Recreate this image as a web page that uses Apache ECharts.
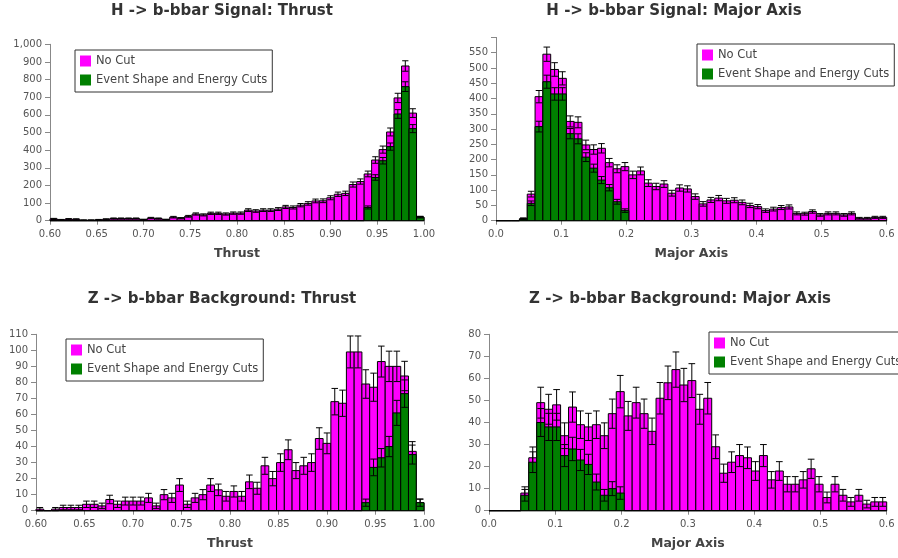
<!DOCTYPE html>
<html>
<head>
<meta charset="utf-8">
<script src="https://cdn.jsdelivr.net/npm/echarts@6/dist/echarts.min.js"></script>
<style>
html, body { margin: 0; padding: 0; background: #fff; }
#main { width: 898px; height: 558px; }
</style>
</head>
<body>
<div id="main"></div>
<script>
// binning: thrust 0.6-1.0 in 50 bins, major axis 0-0.6 in 50 bins
var thrustStart = 0.6, thrustStep = 0.008;
var majorStart = 0.0, majorStep = 0.012;

// H -> b-bbar signal, thrust
var sigThrustNoCut = [10, 5, 9, 8, 3, 3, 5, 8, 12, 12, 12, 12, 6, 15, 12, 6, 20, 14, 25, 38,
  33, 42, 42, 38, 43, 43, 60, 55, 60, 60, 66, 78, 75, 88, 98, 112, 113, 130, 150,
  155, 205, 222, 265, 344, 403, 503, 696, 877, 610, 20];
var sigThrustCut = [0, 0, 0, 0, 0, 0, 0, 0, 0, 0, 0, 0, 0, 0, 0, 0, 0, 0, 0, 0,
  0, 0, 0, 0, 0, 0, 0, 0, 0, 0, 0, 0, 0, 0, 0, 0, 0, 0, 0, 0, 0, 0,
  75, 245, 340, 420, 605, 760, 522, 20];

// H -> b-bbar signal, major axis
var sigMajorNoCut = [0, 0, 0, 6, 87, 406, 545, 495, 466, 325, 322, 248, 233, 237, 190,
  170, 177, 150, 163, 123, 112, 120, 90, 107, 104, 79, 55, 68, 74, 65, 67, 60, 50, 46, 33,
  38, 43, 45, 24, 23, 30, 19, 24, 24, 19, 24, 8, 8, 11, 11];
var sigMajorCut = [0, 0, 0, 6, 57, 308, 455, 415, 415, 285, 268, 208, 172, 133, 108, 62, 33,
  0, 0, 0, 0, 0, 0, 0, 0, 0, 0, 0, 0, 0, 0, 0, 0, 0, 0, 0, 0, 0, 0, 0, 0, 0, 0, 0, 0, 0, 0, 0, 0, 0];

// Z -> b-bbar background, thrust
var bkgThrustNoCut = [1, 0, 1, 2, 2, 2, 4, 4, 3, 7, 4, 6, 6, 6, 8, 3, 10, 8, 16, 4,
  8, 10, 16, 13, 9, 12, 9, 18, 14, 28, 20, 30, 38, 25, 28, 30, 45, 42, 68, 67,
  99, 99, 79, 77, 93, 90, 90, 84, 37, 5];
var bkgThrustCut = [0, 0, 0, 0, 0, 0, 0, 0, 0, 0, 0, 0, 0, 0, 0, 0, 0, 0, 0, 0,
  0, 0, 0, 0, 0, 0, 0, 0, 0, 0, 0, 0, 0, 0, 0, 0, 0, 0, 0, 0, 0, 0,
  5, 27, 33, 40, 61, 73, 35, 5];

// Z -> b-bbar background, major axis
var bkgMajorNoCut = [0, 0, 0, 0, 8, 24, 49, 46, 48, 34, 47, 39, 38, 39, 34, 44, 54, 43, 49, 44,
  36, 51, 58, 64, 57, 59, 46, 51, 29, 17, 22, 25, 24, 18, 25, 14, 18, 12, 12, 14,
  19, 12, 6, 12, 7, 4, 7, 3, 4, 4];
var bkgMajorCut = [0, 0, 0, 0, 7, 22, 40, 38, 38, 25, 28, 23, 21, 13, 7, 10, 8,
  0, 0, 0, 0, 0, 0, 0, 0, 0, 0, 0, 0, 0, 0, 0, 0, 0, 0, 0, 0, 0, 0, 0, 0, 0, 0, 0, 0, 0, 0, 0, 0, 0];

var titles = ['H -> b-bbar Signal: Thrust', 'H -> b-bbar Signal: Major Axis',
  'Z -> b-bbar Background: Thrust', 'Z -> b-bbar Background: Major Axis'];
var seriesNames = ['No Cut', 'Event Shape and Energy Cuts'];
var colors = ['#ff00ff', '#008000'];

function bins(counts, start, step) {
  return counts.map(function (v, i) {
    return [start + i * step, start + (i + 1) * step, v];
  });
}

// bar with black outline + poisson error bar
function histItem(fill) {
  return function (params, api) {
    var x0 = api.value(0), x1 = api.value(1), v = api.value(2);
    var p0 = api.coord([x0, v]);
    var p1 = api.coord([x1, 0]);
    var kids = [{
      type: 'rect',
      shape: { x: p0[0], y: p0[1], width: p1[0] - p0[0], height: p1[1] - p0[1] },
      style: { fill: fill, stroke: '#000', lineWidth: 1 }
    }];
    var e = Math.sqrt(v);
    if (e > 0) {
      var xm = (x0 + x1) / 2;
      var a = api.coord([xm, v + e]);
      var b = api.coord([xm, Math.max(v - e, 0)]);
      var cw = (p1[0] - p0[0]) * 0.42;
      var ls = { stroke: '#000', lineWidth: 1 };
      kids.push({ type: 'line', shape: { x1: a[0], y1: a[1], x2: b[0], y2: b[1] }, style: ls });
      kids.push({ type: 'line', shape: { x1: a[0] - cw, y1: a[1], x2: a[0] + cw, y2: a[1] }, style: ls });
      kids.push({ type: 'line', shape: { x1: b[0] - cw, y1: b[1], x2: b[0] + cw, y2: b[1] }, style: ls });
    }
    return { type: 'group', children: kids };
  };
}

var tickText = { color: '#555', fontFamily: 'DejaVu Sans', fontSize: 10 };
var axisLine = { lineStyle: { color: '#888' } };

function xAx(idx, min, max, step, dec, name) {
  return {
    gridIndex: idx, type: 'value', min: min, max: max, interval: step,
    name: name, nameLocation: 'middle', nameGap: 27,
    nameTextStyle: { color: '#444', fontFamily: 'DejaVu Sans', fontWeight: 'bold', fontSize: 12.5 },
    axisLine: axisLine, axisTick: { length: 4, lineStyle: { color: '#888' } },
    splitLine: { show: false },
    axisLabel: Object.assign({ margin: 9, formatter: function (v) { return v.toFixed(dec); } }, tickText)
  };
}

function yAx(idx, max, step, lastLabel) {
  return {
    gridIndex: idx, type: 'value', min: 0, max: max, interval: step,
    axisLine: { show: true, lineStyle: { color: '#888' } },
    axisTick: { show: true, length: 5, lineStyle: { color: '#888' } },
    splitLine: { show: false },
    axisLabel: Object.assign({
      margin: 8,
      formatter: function (v) { return v > lastLabel ? '' : v.toLocaleString('en-US'); }
    }, tickText)
  };
}

function legendAt(left, top) {
  return {
    orient: 'vertical', left: left, top: top, data: seriesNames,
    icon: 'rect', itemWidth: 11, itemHeight: 11, itemGap: 7,
    padding: [5, 5, 6, 5], borderColor: '#333', borderWidth: 1, backgroundColor: '#fff',
    textStyle: { color: '#444', fontFamily: 'DejaVu Sans', fontSize: 11.5 },
    selectedMode: false
  };
}

function titleAt(text, cx, top) {
  return {
    text: text, left: cx, top: top, textAlign: 'center', padding: 0,
    textStyle: { color: '#333', fontFamily: 'DejaVu Sans', fontWeight: 'bold', fontSize: 15 }
  };
}

var panels = [
  [sigThrustNoCut, sigThrustCut, thrustStart, thrustStep],
  [sigMajorNoCut, sigMajorCut, majorStart, majorStep],
  [bkgThrustNoCut, bkgThrustCut, thrustStart, thrustStep],
  [bkgMajorNoCut, bkgMajorCut, majorStart, majorStep]
];

var series = [];
panels.forEach(function (p, k) {
  [p[0], p[1]].forEach(function (counts, j) {
    series.push({
      name: seriesNames[j], type: 'custom',
      xAxisIndex: k, yAxisIndex: k,
      itemStyle: { color: colors[j] },
      renderItem: histItem(colors[j]),
      encode: { x: [0, 1], y: 2 },
      data: bins(counts, p[2], p[3])
    });
  });
});

var myChart = echarts.init(document.getElementById('main'));
var option = {
  animation: false,
  backgroundColor: '#fff',
  title: [
    titleAt(titles[0], 222, 4),
    titleAt(titles[1], 674, 4),
    titleAt(titles[2], 222, 292),
    titleAt(titles[3], 680, 292)
  ],
  legend: [legendAt(75, 50), legendAt(697, 44), legendAt(66, 339), legendAt(709, 332)],
  grid: [
    { left: 50, top: 44.3, width: 374, height: 176.4 },
    { left: 496, top: 37.4, width: 390.7, height: 183.3 },
    { left: 36, top: 334.3, width: 388, height: 176.4 },
    { left: 489, top: 334.3, width: 397.7, height: 176.4 }
  ],
  xAxis: [
    xAx(0, 0.6, 1.0, 0.05, 2, 'Thrust'),
    xAx(1, 0, 0.6, 0.1, 1, 'Major Axis'),
    xAx(2, 0.6, 1.0, 0.05, 2, 'Thrust'),
    xAx(3, 0, 0.6, 0.1, 1, 'Major Axis')
  ],
  yAxis: [
    yAx(0, 1000, 100, 1000),
    yAx(1, 600, 50, 550),
    yAx(2, 110, 10, 110),
    yAx(3, 80, 10, 80)
  ],
  series: series
};
myChart.setOption(option);
</script>
</body>
</html>
